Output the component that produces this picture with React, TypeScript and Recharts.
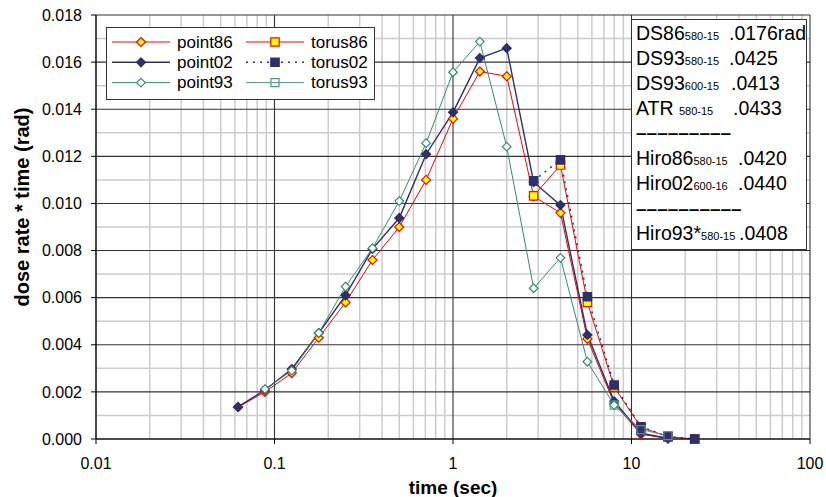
import { LineChart, Line, XAxis, YAxis, CartesianGrid, Label } from 'recharts';

// time steps (sec), powers of sqrt(2)
const times = [0.0625, 0.0884, 0.125, 0.177, 0.25, 0.354, 0.5, 0.707, 1, 1.414, 2, 2.83, 4, 5.66, 8, 11.3, 16, 22.6];

const point86 = [0.00135, 0.002, 0.0028, 0.0043, 0.0058, 0.0076, 0.009, 0.011, 0.0136, 0.0156, 0.0154, 0.0103, 0.0096, 0.00425, 0.0015, 0.0002, 0.00002, null];
const point02 = [0.00136, 0.00208, 0.00297, 0.0045, 0.0061, 0.00807, 0.00938, 0.01209, 0.01387, 0.01617, 0.01659, 0.0109, 0.00993, 0.00442, 0.0016, 0.00025, 0.00003, null];
const point93 = [null, 0.00212, 0.0029, 0.0045, 0.00647, 0.0081, 0.0101, 0.01256, 0.01557, 0.01687, 0.01241, 0.0064, 0.00769, 0.00328, 0.00144, null, null, null];
const torus86 = [null, null, null, null, null, null, null, null, null, null, null, 0.01032, 0.01163, 0.0058, 0.0022, 0.0005, 0.0001, 0];
const torus02 = [null, null, null, null, null, null, null, null, null, null, null, 0.01096, 0.01185, 0.00604, 0.00229, 0.00052, 0.0001, 0];
const torus93 = [null, null, null, null, null, null, null, null, null, null, null, null, null, null, 0.00144, 0.0004, 0.00014, null];

const xTicks = [0.01, 0.1, 1, 10, 100];
const yTicks = [0, 0.002, 0.004, 0.006, 0.008, 0.01, 0.012, 0.014, 0.016, 0.018];
const xMinor = [0.02, 0.03, 0.04, 0.05, 0.06, 0.07, 0.08, 0.09, 0.2, 0.3, 0.4, 0.5, 0.6, 0.7, 0.8, 0.9, 2, 3, 4, 5, 6, 7, 8, 9, 20, 30, 40, 50, 60, 70, 80, 90];
const yMinor = [0.001, 0.003, 0.005, 0.007, 0.009, 0.011, 0.013, 0.015, 0.017];

const doses = [
  { name: 'DS86', sub: '580-15', value: '.0176rad' },
  { name: 'DS93', sub: '580-15', value: '.0425' },
  { name: 'DS93', sub: '600-15', value: '.0413' },
  { name: 'ATR ', sub: '580-15', value: '.0433' },
  { name: '---' },
  { name: 'Hiro86', sub: '580-15', value: '.0420' },
  { name: 'Hiro02', sub: '600-16', value: '.0440' },
  { name: '---' },
  { name: 'Hiro93*', sub: '580-15', value: '.0408' },
];

const RED = '#ff0000';
const YEL = '#ffff00';
const NAVY = '#2f2f6c';
const GREEN = '#338f6c';
const TEAL = '#4d9988';

const toPoints = (vals: (number | null)[]) =>
  times.map((x, i) => ({ x, y: vals[i] })).filter((p) => p.y !== null);

const makeDot = (shape: 'diamond' | 'square', fill: string, stroke: string, r: number) => (props: any) => {
  const { cx, cy, index } = props;
  if (cx == null || cy == null) return <g key={index} />;
  const d =
    shape === 'diamond'
      ? `M${cx} ${cy - r}L${cx + r} ${cy}L${cx} ${cy + r}L${cx - r} ${cy}Z`
      : `M${cx - r} ${cy - r}H${cx + r}V${cy + r}H${cx - r}Z`;
  return <path key={index} d={d} fill={fill} stroke={stroke} strokeWidth={1.2} />;
};

const series = [
  { key: 'point86', vals: point86, color: RED, width: 1, dash: undefined, shape: 'diamond', fill: YEL, mstroke: RED, r: 4.5 },
  { key: 'point02', vals: point02, color: NAVY, width: 1.4, dash: undefined, shape: 'diamond', fill: NAVY, mstroke: NAVY, r: 4.5 },
  { key: 'point93', vals: point93, color: GREEN, width: 1, dash: undefined, shape: 'diamond', fill: '#fff', mstroke: GREEN, r: 4.3 },
  { key: 'torus86', vals: torus86, color: RED, width: 1, dash: undefined, shape: 'square', fill: YEL, mstroke: RED, r: 4.2 },
  { key: 'torus02', vals: torus02, color: NAVY, width: 1.5, dash: '2 5', shape: 'square', fill: NAVY, mstroke: NAVY, r: 4.2 },
  { key: 'torus93', vals: torus93, color: TEAL, width: 1, dash: undefined, shape: 'square', fill: 'none', mstroke: TEAL, r: 4 },
] as const;

const legendOrder = ['point86', 'torus86', 'point02', 'torus02', 'point93', 'torus93'];

const YTitle = (props: any) => {
  const { viewBox } = props;
  const x = viewBox.x + 22;
  const y = viewBox.y + viewBox.height / 2 - 20;
  return (
    <text x={x} y={y} transform={`rotate(-90, ${x}, ${y})`} textAnchor="middle" dominantBaseline="central"
      fontWeight="bold" fontSize={20} fill="#000">
      dose rate * time (rad)
    </text>
  );
};

function ChartLegend() {
  return (
    <div style={{ position: 'absolute', left: 106, top: 27, width: 269, height: 73, border: '1px solid #333', background: '#fff', boxSizing: 'border-box' }}>
      <svg width={269} height={73}>
        {legendOrder.map((k, i) => {
          const s = series.find((q) => q.key === k)!;
          const col = i % 2;
          const row = Math.floor(i / 2);
          const y = 14 + row * 20.3;
          const x0 = col === 0 ? 5 : 139;
          const dot = makeDot(s.shape as any, s.fill, s.mstroke, s.r);
          return (
            <g key={k}>
              <line x1={x0} x2={x0 + 58} y1={y} y2={y} stroke={s.color} strokeWidth={s.width} strokeDasharray={s.dash} />
              {dot({ cx: x0 + 29, cy: y, index: 0 })}
              <text x={x0 + 65} y={y} dominantBaseline="central" fontSize={17} fill="#000">{k}</text>
            </g>
          );
        })}
      </svg>
    </div>
  );
}

function DoseBox() {
  const valueX = [97, 97, 99, 101, 0, 106, 106, 0, 107];
  return (
    <div style={{ position: 'absolute', left: 631, top: 19, width: 176, height: 231, border: '1px solid #333', background: '#fff', boxSizing: 'border-box' }}>
      <svg width={176} height={231}>
        {doses.map((d, i) => {
          const y = 12.5 + i * 25.1;
          if (d.name === '---') {
            return (
              <text key={i} x={4} y={y} dominantBaseline="central" fontSize={19} fill="#000" fontWeight="bold">
                {i < 5 ? '–––––––––' : '––––––––––'}
              </text>
            );
          }
          return (
            <g key={i}>
              <text x={4} y={y + 7} fontSize={19.5} fill="#000" style={{ whiteSpace: 'pre' }}>
                {d.name}
                <tspan fontSize={11}>{d.sub}</tspan>
              </text>
              <text x={valueX[i]} y={y + 7} fontSize={19.5} fill="#000">{d.value}</text>
            </g>
          );
        })}
      </svg>
    </div>
  );
}

export default function App() {
  return (
    <div style={{ position: 'relative', width: 826, height: 497, fontFamily: '"Liberation Sans", Arial, sans-serif', background: '#fff' }}>
      <style>{'body{margin:0}'}</style>
      <LineChart width={826} height={497} margin={{ top: 15, right: 16, bottom: 0, left: 0 }}>
        <CartesianGrid horizontalValues={yMinor} verticalValues={xMinor} stroke="#cccccc" strokeWidth={1.5} />
        <CartesianGrid horizontalValues={yTicks} verticalValues={xTicks} stroke="#333333" strokeWidth={1.1} />
        <XAxis
          dataKey="x"
          type="number"
          scale="log"
          domain={[0.01, 100]}
          ticks={xTicks}
          interval={0}
          allowDataOverflow
          height={58}
          axisLine={{ stroke: '#000' }}
          tickLine={{ stroke: '#000' }}
          tickSize={5}
          tickMargin={14}
          tick={{ fontSize: 16, fill: '#000' }}
          tickFormatter={(v: number) => String(v)}
        >
          <Label value="time (sec)" position="insideBottom" offset={3} style={{ fontWeight: 'bold', fontSize: 19, fill: '#000' }} />
        </XAxis>
        <YAxis
          type="number"
          domain={[0, 0.018]}
          ticks={yTicks}
          interval={0}
          width={96}
          axisLine={{ stroke: '#000' }}
          tickLine={{ stroke: '#000' }}
          tickSize={5}
          tickMargin={9}
          tick={{ fontSize: 16, fill: '#000' }}
          tickFormatter={(v: number) => v.toFixed(3)}
          label={<YTitle />}
        />
        {series.map((s) => (
          <Line
            key={s.key}
            data={toPoints(s.vals as any)}
            dataKey="y"
            type="linear"
            stroke={s.color}
            strokeWidth={s.width}
            strokeDasharray={s.dash}
            dot={makeDot(s.shape as any, s.fill, s.mstroke, s.r)}
            activeDot={false}
            isAnimationActive={false}
          />
        ))}
      </LineChart>
      <ChartLegend />
      <DoseBox />
    </div>
  );
}
